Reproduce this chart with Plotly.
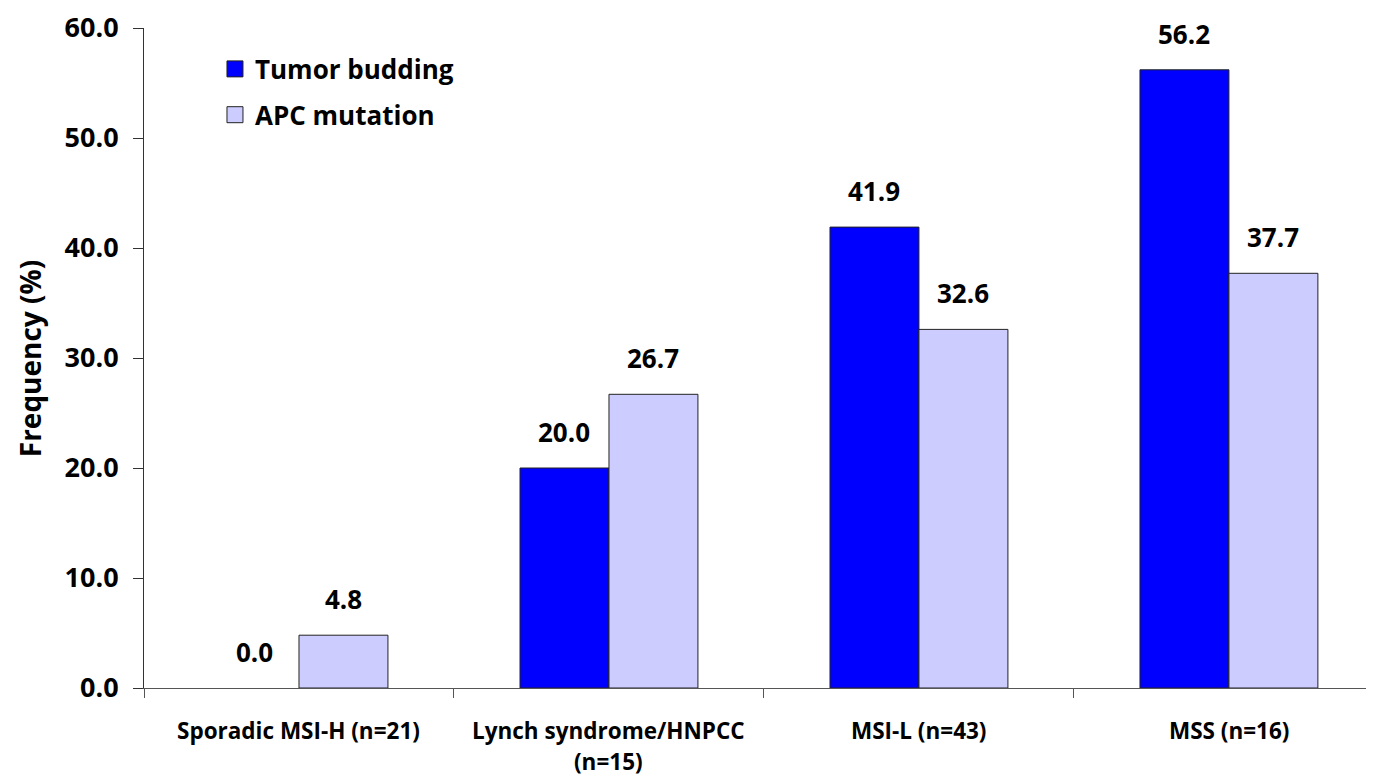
import plotly.graph_objects as go

categories = ["Sporadic MSI-H (n=21)", "Lynch syndrome/HNPCC<br>(n=15)", "MSI-L (n=43)", "MSS (n=16)"]
tumor_budding = [0.0, 20.0, 41.9, 56.2]
apc_mutation = [4.8, 26.7, 32.6, 37.7]
series_names = ["Tumor budding", "APC mutation"]
series_colors = ["#0000FF", "#CCCCFF"]
y_ticks = [0, 10, 20, 30, 40, 50, 60]
y_title = "Frequency (%)"

FONT = "Open Sans"
x_idx = list(range(len(categories)))

fig = go.Figure()
for name, vals, col in zip(series_names, [tumor_budding, apc_mutation], series_colors):
    fig.add_trace(go.Bar(
        x=x_idx, y=vals, name=name,
        marker=dict(color=col, line=dict(color="#222222", width=[0 if v == 0 else 1 for v in vals])),
        showlegend=False, offsetgroup=name,
    ))

# legend entries (square swatches)
for name, col in zip(series_names, series_colors):
    fig.add_trace(go.Scatter(
        x=[None], y=[None], mode="markers", name=name, legendgroup=name,
        marker=dict(symbol="square", size=16, color=col, line=dict(color="#222222", width=1)),
    ))

annotations = []
for k, vals in enumerate([tumor_budding, apc_mutation]):
    for i, v in enumerate(vals):
        annotations.append(dict(
            x=i + (-0.1435 if k == 0 else 0.1435), y=v, xref="x", yref="y",
            text=f"{v:.1f}", showarrow=False, yanchor="bottom", yshift=16,
            font=dict(family=FONT, size=26, color="black", weight="bold"),
        ))
for i, lab in enumerate(categories):
    for j, line in enumerate(lab.split("<br>")):
        annotations.append(dict(
            x=i, y=-0.065 - 0.047 * j, xref="x", yref="paper", text=line,
            showarrow=False, yanchor="middle",
            font=dict(family=FONT, size=22.5, color="black", weight="bold"),
        ))
annotations.append(dict(
    x=-0.0925, y=0.5, xref="paper", yref="paper", text=y_title, textangle=-90,
    showarrow=False, xanchor="center", yanchor="middle",
    font=dict(family=FONT, size=28, color="black", weight="bold"),
))

fig.update_layout(
    width=1374, height=776,
    margin=dict(l=136, r=8, t=20, b=96, autoexpand=False),
    paper_bgcolor="white", plot_bgcolor="white",
    barmode="group", bargap=0.426, bargroupgap=0,
    font=dict(family=FONT, color="black"),
    legend=dict(x=0.0577, y=0.9735, xanchor="left", yanchor="top", tracegroupgap=9,
                font=dict(family=FONT, size=26, color="black", weight="bold"),
                bgcolor="rgba(0,0,0,0)", traceorder="grouped"),
    annotations=annotations,
    xaxis=dict(range=[-0.5, 3.468], tickmode="array", tickvals=[i - 0.5 for i in x_idx] + [3.5],
               showticklabels=False, ticks="outside", ticklen=9, tickcolor="#555555",
               showline=True, linecolor="#555555", linewidth=1, showgrid=False, zeroline=False),
    yaxis=dict(range=[0, 60], tickmode="array", tickvals=y_ticks, tickformat=".1f",
               ticks="outside", ticklen=10, tickcolor="#333333", showline=True, linecolor="#333333",
               linewidth=1, showgrid=False, zeroline=False, ticklabelstandoff=9,
               tickfont=dict(family=FONT, size=27, color="black", weight="bold")),
)

fig.write_html("out.html")
